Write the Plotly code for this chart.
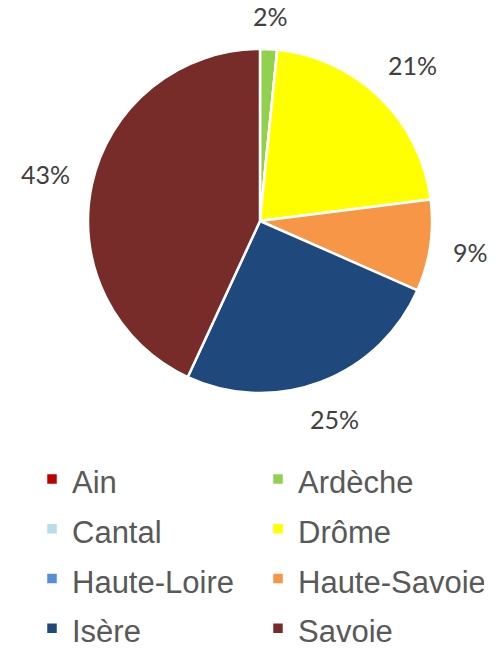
import math
import plotly.graph_objects as go

# Data
departements = ["Ain", "Ardèche", "Cantal", "Drôme", "Haute-Loire", "Haute-Savoie", "Isère", "Savoie"]
valeurs = [0, 1.6, 0, 21.4, 0, 8.6, 25.3, 43.1]
couleurs = ["#C00000", "#92D050", "#B7DEE8", "#FFFF00", "#558ED5", "#F79646", "#1F497D", "#772C2A"]

W, H = 500, 648
CX, CY, R = 260, 221, 172  # pie geometry in px

legend_labels = [f'<span style="font-size:31px">{d}</span>' for d in departements]

fig = go.Figure(go.Pie(
    labels=legend_labels,
    values=valeurs,
    marker=dict(colors=couleurs, line=dict(color="white", width=2.5)),
    sort=False,
    direction="clockwise",
    rotation=0,
    textinfo="none",
    hoverinfo="skip",
    domain=dict(x=[(CX - R) / W, (CX + R) / W], y=[1 - (CY + R) / H, 1 - (CY - R) / H]),
))

# percentage labels placed outside, derived from data
total = sum(valeurs)
cum = 0
annotations = []
for v in valeurs:
    if v > 0:
        theta = 2 * math.pi * (cum + v / 2) / total
        txt = f"{round(100 * v / total)}%"
        w = 14 * len(txt) + 6
        h = 20
        r = 194 + abs(math.sin(theta)) * w / 2 + abs(math.cos(theta)) * h / 2
        px = CX + r * math.sin(theta)
        py = CY - r * math.cos(theta)
        annotations.append(dict(x=px / W, y=1 - py / H, xref="paper", yref="paper",
                                text=txt, showarrow=False, xanchor="center", yanchor="middle",
                                font=dict(family="Lato, Carlito, sans-serif", size=25, color="#404040")))
    cum += v

fig.update_layout(
    width=W, height=H,
    margin=dict(l=0, r=0, t=0, b=0, autoexpand=False),
    paper_bgcolor="white",
    plot_bgcolor="white",
    annotations=annotations,
    showlegend=True,
    legend=dict(
        orientation="h",
        x=0.064, xanchor="left",
        y=1 - 449 / H, yanchor="top",
        font=dict(family="Liberation Sans, Arial, sans-serif", size=36, color="#595959"),
        entrywidth=181, entrywidthmode="pixels",
        traceorder="normal",
        itemclick=False, itemdoubleclick=False,
    ),
)

fig.write_html("out.html", config={"displayModeBar": False},
               post_script="document.body.style.margin='0';document.body.style.overflow='hidden';")
